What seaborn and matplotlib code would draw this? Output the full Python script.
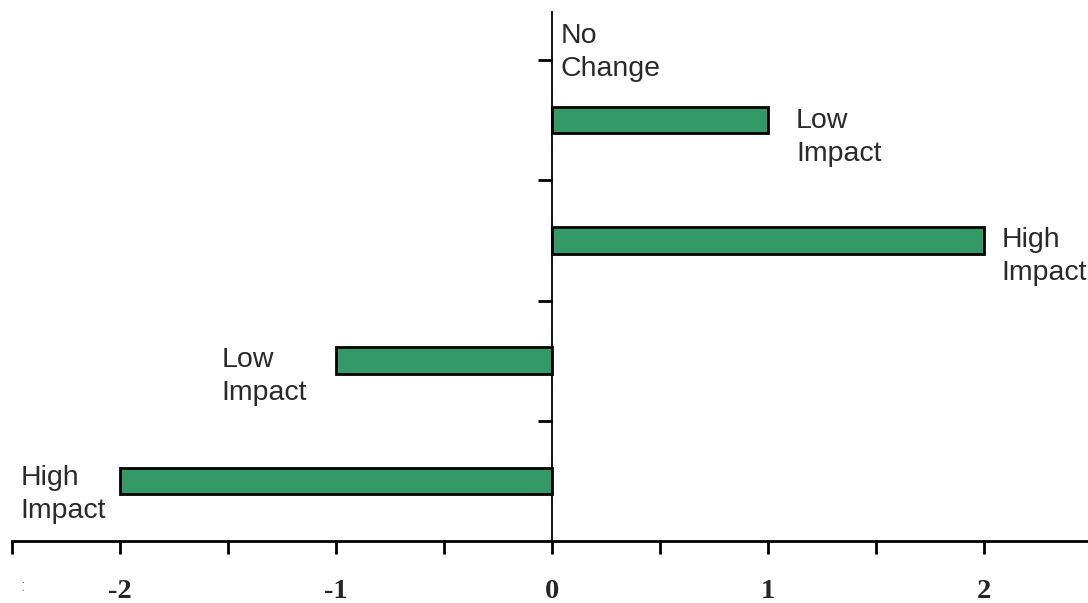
import numpy as np
import pandas as pd
import matplotlib
matplotlib.use("Agg")
import matplotlib.pyplot as plt
import seaborn as sns

# bars, top to bottom
rows = ["pos_low", "pos_high", "neg_low", "neg_high"]
values = [1, 2, -1, -2]
bar_labels = ["Low\nImpact", "High\nImpact", "Low\nImpact", "High\nImpact"]
top_label = "No\nChange"
xticks_major = [-2, -1, 0, 1, 2]
xtick_labels = ["-2", "-1", "0", "1", "2"]

df = pd.DataFrame({"row": rows, "value": values})

sns.set_theme(style="white")
plt.rcParams["font.family"] = ["Liberation Sans", "DejaVu Sans"]

fig = plt.figure(figsize=(10.88, 6.03), dpi=100)
ax = fig.add_axes([12 / 1088, 62 / 603, 1080 / 1088, 529 / 603])

sns.barplot(data=df, x="value", y="row", order=rows, orient="h",
            color="#339966", saturation=1, edgecolor="black",
            linewidth=2, width=0.22, ax=ax)

ax.set_xlim(-2.5, 2.5)
ax.set_ylim(3.5, -0.9)

# axes: y spine through zero, x axis at the bottom
for s in ["top", "right"]:
    ax.spines[s].set_visible(False)
ax.spines["left"].set_position(("data", 0))
ax.spines["left"].set_linewidth(1.3)
ax.spines["left"].set_color("black")
ax.spines["bottom"].set_linewidth(2)
ax.spines["bottom"].set_color("black")

ticks = np.arange(-2.5, 2.51, 0.5)
ax.set_xticks(ticks)
ax.set_xticklabels([xtick_labels[xticks_major.index(int(t))] if float(t).is_integer() else ""
                    for t in ticks],
                   fontfamily="Liberation Serif", fontweight="bold", fontsize=20.5)
ax.tick_params(axis="x", direction="out", length=9, width=2, color="black",
               pad=18, bottom=True)
ax.set_yticks([-0.5, 0.5, 1.5, 2.5])
ax.set_yticklabels([])
ax.tick_params(axis="y", direction="out", length=10, width=2, color="black", left=True)
ax.set_xlabel("")
ax.set_ylabel("")

# labels beside the bars
offsets = {"pos_low": (1.13, -0.10), "pos_high": (2.08, 0.89),
           "neg_low": (-1.53, 1.89), "neg_high": (-2.46, 2.87)}
for r, txt in zip(rows, bar_labels):
    x, y = offsets[r]
    ax.text(x, y, txt, ha="left", va="top", fontsize=20.5, color="#2a2a2a",
            linespacing=1.35, clip_on=False)
ax.text(0.04, -0.81, top_label, ha="left", va="top", fontsize=20.5,
        color="#2a2a2a", linespacing=1.35)

# faint remnant of a cut-off label at the far left
ax.text(-2.45, 3.88, ":", ha="center", va="center", fontsize=12,
        color="#888888", clip_on=False)

fig.savefig("out.png", dpi=100)
